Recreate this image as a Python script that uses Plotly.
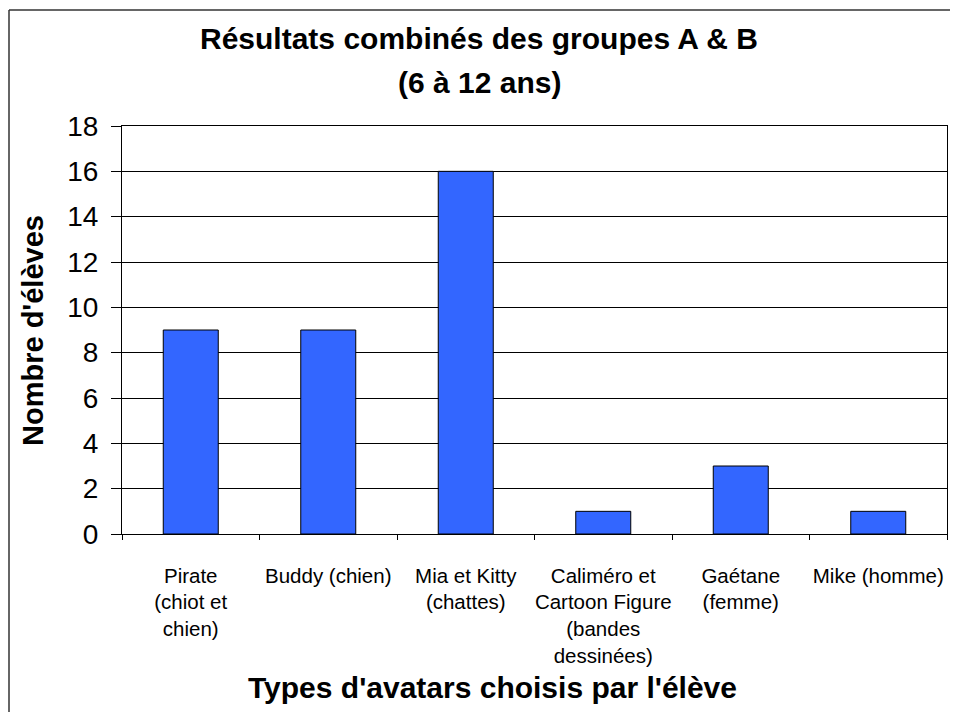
import plotly.graph_objects as go

# data
categories = [
    "Pirate<br>(chiot et<br>chien)",
    "Buddy (chien)",
    "Mia et Kitty<br>(chattes)",
    "Caliméro et<br>Cartoon Figure<br>(bandes<br>dessinées)",
    "Gaétane<br>(femme)",
    "Mike (homme)",
]
nb_eleves = [9, 9, 16, 1, 3, 1]
y_ticks = [0, 2, 4, 6, 8, 10, 12, 14, 16, 18]

title_line1 = "Résultats combinés des groupes A & B"
title_line2 = "(6 à 12 ans)"
x_title = "Types d'avatars choisis par l'élève"
y_title = "Nombre d'élèves"

FONT = "Arial, Liberation Sans, sans-serif"

# the page body adds an 8px margin, so the figure is drawn 8px smaller
OFF = 8
W, H = 958 - OFF, 712 - OFF
# plot area in page pixels: x 122..947, y 126..534
L, T = 122 - OFF, 126 - OFF
R = W - (947 - OFF)
B = H - (534 - OFF)

plot_w = W - L - R
plot_h = H - T - B


def px_x(x):
    # page pixel -> paper x
    return (x - OFF - L) / plot_w


def px_y(y):
    # page pixel -> paper y
    return (H - B - (y - OFF)) / plot_h


fig = go.Figure()
fig.add_trace(go.Bar(
    x=categories,
    y=nb_eleves,
    marker=dict(color="#3366FF", line=dict(color="black", width=1)),
    width=0.4,
))

fig.update_layout(
    width=W, height=H,
    margin=dict(l=L, r=R, t=T, b=B),
    paper_bgcolor="white",
    plot_bgcolor="white",
    showlegend=False,
    font=dict(family=FONT, color="black"),
)

fig.update_xaxes(
    showline=True, linecolor="black", linewidth=1, mirror=True,
    ticks="outside", ticklen=5, tickcolor="black", tickson="boundaries",
    tickfont=dict(size=20.5), ticklabelstandoff=23, tickangle=0,
    showgrid=False, automargin=False,
)
fig.update_yaxes(
    range=[0, 18], tickvals=y_ticks,
    showline=True, linecolor="black", linewidth=1, mirror=True,
    ticks="outside", ticklen=10, tickcolor="black",
    tickfont=dict(size=28), ticklabelstandoff=7,
    showgrid=True, gridcolor="black", gridwidth=1,
    zeroline=False, automargin=False,
)

annotations = [
    dict(text="<b>%s</b>" % title_line1, x=px_x(479), y=px_y(38),
         font=dict(size=30)),
    dict(text="<b>%s</b>" % title_line2, x=px_x(479), y=px_y(83),
         font=dict(size=30)),
    dict(text="<b>%s</b>" % x_title, x=px_x(492), y=px_y(687),
         font=dict(size=30)),
    dict(text="<b>%s</b>" % y_title, x=px_x(33), y=px_y(331),
         textangle=-90, font=dict(size=29)),
]
for a in annotations:
    a.update(xref="paper", yref="paper", showarrow=False,
             xanchor="center", yanchor="middle")
fig.update_layout(annotations=annotations)

# outer chart frame (only top and left edges are inside the picture)
frame = dict(color="#333", width=1.5)
fig.add_shape(type="line", xref="paper", yref="paper",
              x0=px_x(9), y0=px_y(10), x1=px_x(970), y1=px_y(10), line=frame)
fig.add_shape(type="line", xref="paper", yref="paper",
              x0=px_x(9), y0=px_y(10), x1=px_x(9), y1=px_y(730), line=frame)

fig.write_html("out.html")
